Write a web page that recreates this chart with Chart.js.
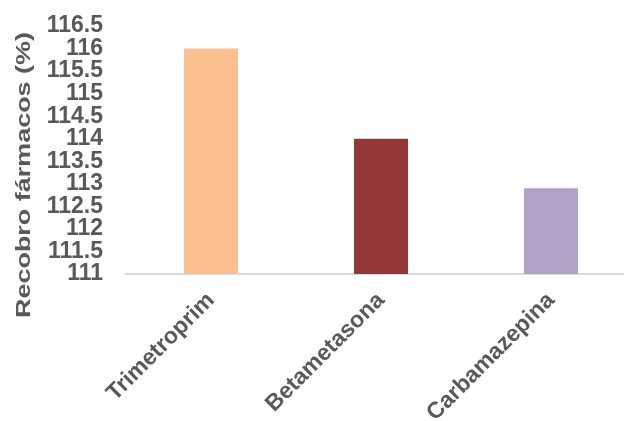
<!DOCTYPE html>
<html>
<head>
<meta charset="utf-8">
<script src="https://cdn.jsdelivr.net/npm/chart.js@4/dist/chart.umd.min.js"></script>
<style>
  html, body { margin: 0; padding: 0; background: #fff; overflow: hidden; width: 624px; height: 421px; }
  #wrap { position: relative; width: 636px; height: 421px; }
</style>
</head>
<body>
<div id="wrap"><canvas id="chart" width="636" height="421"></canvas></div>
<script>
// Drug recovery percentages
const categories = ['Trimetroprim', 'Betametasona', 'Carbamazepina'];
const recovery = [116.0, 114.0, 112.9];
const barColors = ['#FAC090', '#953735', '#B3A2C7'];
const yMin = 111;
const yMax = 116.5;
const yStep = 0.5;
const yTitle = 'Recobro fármacos (%)';

const textColor = '#595959';
const fontFamily = '"Liberation Sans", Arial, Helvetica, sans-serif';

// Vertical axis title, drawn beside the tick labels and stretched along its length
const sideTitle = {
  id: 'sideTitle',
  afterDraw(chart) {
    const ctx = chart.ctx;
    const len = 286;
    ctx.save();
    ctx.font = 'bold 20px ' + fontFamily;
    const w = ctx.measureText(yTitle).width;
    ctx.translate(30, 175);
    ctx.rotate(-Math.PI / 2);
    ctx.scale(len / w, 1);
    ctx.fillStyle = textColor;
    ctx.textAlign = 'center';
    ctx.textBaseline = 'alphabetic';
    ctx.fillText(yTitle, 0, 0);
    ctx.restore();
  }
};

new Chart(document.getElementById('chart'), {
  type: 'bar',
  data: {
    labels: categories,
    datasets: [{
      data: recovery,
      backgroundColor: barColors,
      borderWidth: 0,
      barPercentage: 1,
      categoryPercentage: 0.318
    }]
  },
  options: {
    responsive: false,
    devicePixelRatio: 1,
    animation: false,
    layout: { padding: { top: 26, left: 0, right: 0, bottom: 0 } },
    plugins: { legend: { display: false }, tooltip: { enabled: false } },
    scales: {
      x: {
        grid: { display: false },
        border: { display: true, color: '#D9D9D9', width: 2 },
        ticks: {
          autoSkip: false,
          maxRotation: 45,
          minRotation: 45,
          padding: 5,
          color: textColor,
          font: { family: fontFamily, size: 23, weight: 'bold' }
        },
        afterFit(scale) { scale.height = 147; }
      },
      y: {
        min: yMin,
        max: yMax,
        grid: { display: false, drawTicks: false },
        border: { display: false },
        ticks: {
          stepSize: yStep,
          autoSkip: false,
          padding: 23,
          color: textColor,
          font: { family: fontFamily, size: 23, weight: 'bold' },
          callback: (v) => String(+v)
        },
        afterFit(scale) {
          scale.width = 126;
          scale.paddingTop = 0;
          scale.paddingBottom = 0;
        }
      }
    }
  },
  plugins: [sideTitle]
});
</script>
</body>
</html>
